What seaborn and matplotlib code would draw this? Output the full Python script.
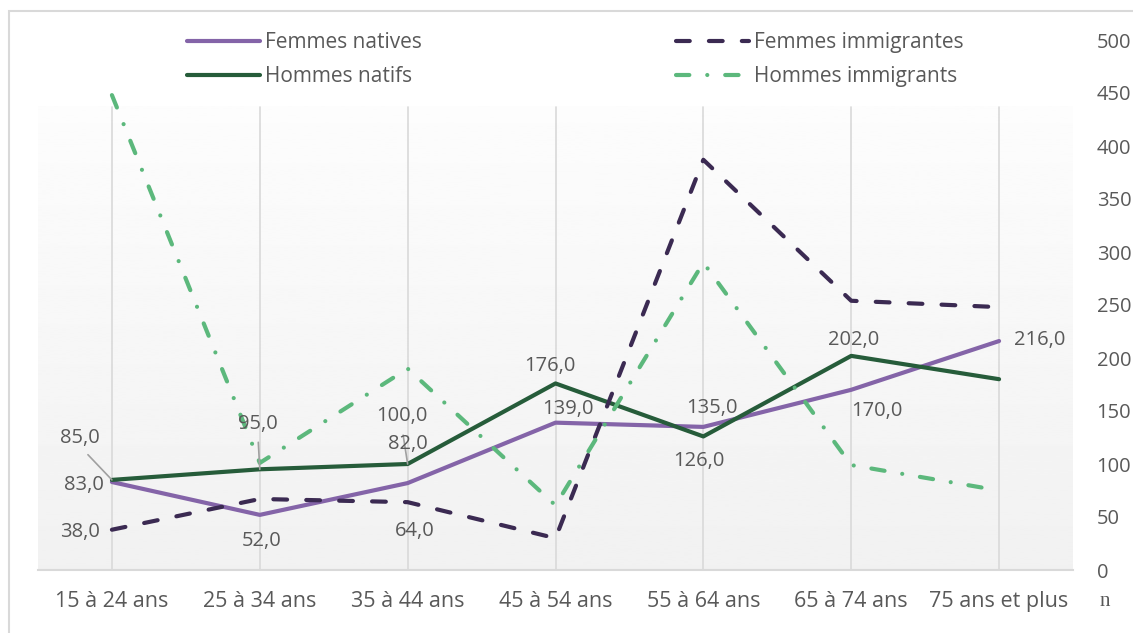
import numpy as np
import pandas as pd
import seaborn as sns
import matplotlib.pyplot as plt
import matplotlib.patches as patches

# donnees
ages = ["15 à 24 ans", "25 à 34 ans", "35 à 44 ans", "45 à 54 ans",
        "55 à 64 ans", "65 à 74 ans", "75 ans et plus"]
femmes_natives = [83, 52, 82, 139, 135, 170, 216]
hommes_natifs = [85, 95, 100, 176, 126, 202, 180]
femmes_immigrantes = [38, 67, 64, 30, 387, 254, 248]
hommes_immigrants = [448, 101, 190, 61, 290, 99, 75]

# etiquettes affichees : (serie, index, texte, dx, dy, trait)
etiquettes = [
    ("hn", 0, "85,0", -32, 42, True),
    ("fn", 0, "83,0", -28, -3, False),
    ("fi", 0, "38,0", -32, -2, False),
    ("hn", 1, "95,0", -2, 45, True),
    ("fn", 1, "52,0", 2, -26, False),
    ("hn", 2, "100,0", -6, 48, True),
    ("fn", 2, "82,0", 0, 39, False),
    ("fi", 2, "64,0", 7, -29, False),
    ("hn", 3, "176,0", -6, 17, False),
    ("fn", 3, "139,0", 12, 14, False),
    ("fn", 4, "135,0", 9, 19, False),
    ("hn", 4, "126,0", -4, -25, False),
    ("hn", 5, "202,0", 2, 16, False),
    ("fn", 5, "170,0", 26, -21, False),
    ("fn", 6, "216,0", 41, 1, False),
]

sns.set_theme(style="white")
plt.rcParams['font.family'] = ['Open Sans', 'DejaVu Sans']
gris = "#595959"

series = {
    "fn": ("Femmes natives", femmes_natives, "#8464a8", "-"),
    "hn": ("Hommes natifs", hommes_natifs, "#265c3a", "-"),
    "fi": ("Femmes immigrantes", femmes_immigrantes, "#3b2a52", (0, (3.3, 4.6))),
    "hi": ("Hommes immigrants", hommes_immigrants, "#5cb87c", (0, (3.2, 4.3, 0.01, 4.3))),
}

fig = plt.figure(figsize=(11.33, 6.33), dpi=100)
ax = fig.add_axes([38 / 1133, 63 / 633, 1035 / 1133, 530 / 633])

# fond degrade
grad = np.linspace(0.945, 0.99, 256).reshape(-1, 1)
ax.imshow(grad, cmap="gray", vmin=0, vmax=1, aspect="auto", origin="lower",
          extent=[0, 1, 0, 0.874], transform=ax.transAxes, zorder=0)

x = np.arange(len(ages))
for i in x:
    ax.plot([i, i], [0, 437], color="#d9d9d9", lw=1.2, zorder=1)

for key in ["fn", "hn", "fi", "hi"]:
    nom, vals, col, ls = series[key]
    df = pd.DataFrame({"x": x, "y": vals})
    sns.lineplot(data=df, x="x", y="y", ax=ax, color=col, lw=3.0,
                 linestyle=ls, dash_capstyle="round", solid_capstyle="round",
                 zorder=3, label=nom)

for key, i, txt, dx, dy, trait in etiquettes:
    vals = series[key][1]
    ax.annotate(txt, xy=(i, vals[i]), xytext=(dx, dy), textcoords="offset pixels",
                ha="center", va="center", fontsize=14.5, color=gris, zorder=4)
    if trait:
        ax.annotate("", xy=(i, vals[i]), xytext=(dx * 0.75, dy * 0.6),
                    textcoords="offset pixels",
                    arrowprops=dict(arrowstyle="-", color="#a0a0a0", lw=1.2,
                                    shrinkA=0, shrinkB=0), zorder=4)

ax.set_xlim(-0.5, 6.5)
ax.set_ylim(0, 500)
ax.set_xticks(x)
ax.set_xticklabels(ages)
ax.yaxis.tick_right()
ax.set_yticks(range(0, 501, 50))
ax.tick_params(axis="x", length=0, labelsize=15.5, colors=gris, pad=15)
ax.tick_params(axis="y", length=0, labelsize=14.5, colors=gris, pad=17)
ax.set_xlabel("")
ax.set_ylabel("")
for s in ["top", "left", "right"]:
    ax.spines[s].set_visible(False)
ax.spines["bottom"].set_color("#d9d9d9")
ax.spines["bottom"].set_linewidth(1.5)
ax.set_facecolor("white")

ax.legend(loc="upper left", bbox_to_anchor=(187 / 1133, 1 - 32 / 633),
          bbox_transform=fig.transFigure, ncol=2, frameon=False, fontsize=15,
          labelcolor=gris, handlelength=3.5, handletextpad=0.25,
          columnspacing=12.2, labelspacing=0.62, borderaxespad=0, borderpad=0)

fig.text(1105 / 1133, 1 - 601 / 633, "n", family="Liberation Serif",
         fontsize=15, color=gris, ha="center", va="center")

# cadre exterieur
fig.patches.append(patches.Rectangle((9 / 1133, -0.1), 1.2, 1 - 11 / 633 + 0.1,
                                     transform=fig.transFigure, fill=False,
                                     edgecolor="#d9d9d9", lw=1.5))

fig.savefig("out.png", dpi=100)
